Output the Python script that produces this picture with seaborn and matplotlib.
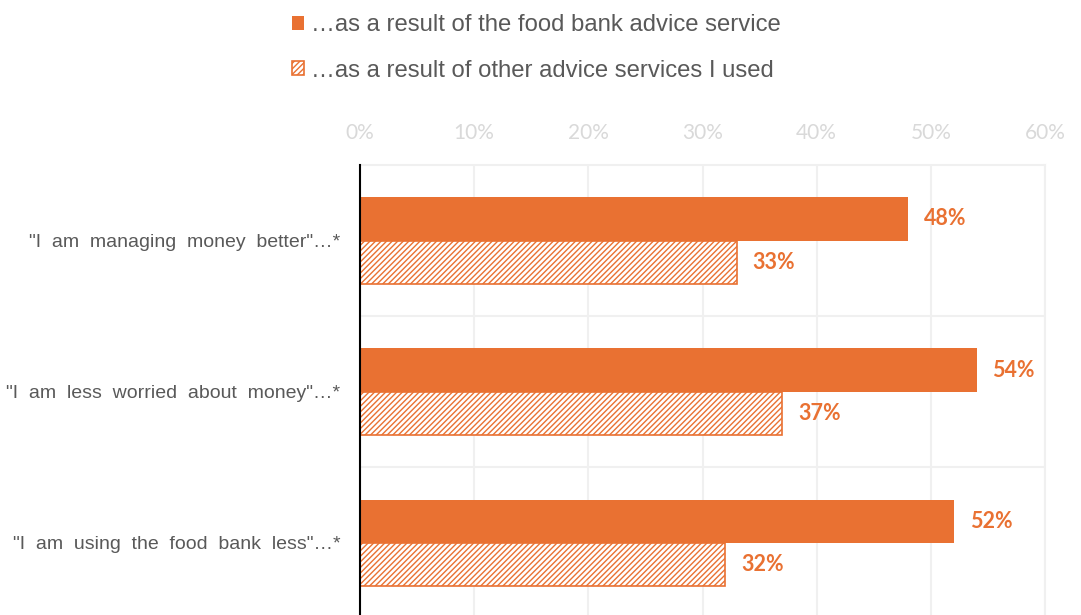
import matplotlib
matplotlib.use("Agg")
import matplotlib.pyplot as plt
import seaborn as sns
import pandas as pd
from matplotlib.patches import Patch
from matplotlib.ticker import FixedLocator, PercentFormatter

categories = ['"I  am  managing  money  better"…*',
              '"I  am  less  worried  about  money"…*',
              '"I  am  using  the  food  bank  less"…*']
series_names = ['…as a result of the food bank advice service',
                '…as a result of other advice services I used']
food_bank = [48, 54, 52]
other_services = [33, 37, 32]
x_ticks = [0, 10, 20, 30, 40, 50, 60]

ORANGE = '#E97132'

sns.set_theme(style='white')
plt.rcParams['font.family'] = ['Liberation Sans', 'DejaVu Sans']
plt.rcParams['hatch.linewidth'] = 1.0

df = pd.DataFrame({
    'category': categories * 2,
    'value': food_bank + other_services,
    'series': [series_names[0]] * 3 + [series_names[1]] * 3,
})

fig = plt.figure(figsize=(10.81, 6.15), dpi=100)
ax = fig.add_axes([360 / 1081, -0.005, (1045 - 360) / 1081, 0.7317 + 0.005])

sns.barplot(data=df, y='category', x='value', hue='series', orient='h',
            palette=[ORANGE, ORANGE], width=0.57, gap=0, ax=ax, legend=False,
            saturation=1)

# style the second series as hatched
for i, cont in enumerate(ax.containers):
    for p in cont:
        if i == 1:
            p.set_facecolor('white')
            p.set_edgecolor(ORANGE)
            p.set_hatch('//////')
            p.set_linewidth(1.2)
        else:
            p.set_edgecolor(ORANGE)
            p.set_linewidth(0)
    ax.bar_label(cont, labels=[f'{v:.0f}%' for v in cont.datavalues],
                 padding=11.5, color=ORANGE, fontsize=15.5, fontweight='bold',
                 family=['Lato', 'DejaVu Sans'])

ax.set_xlim(0, 60)
ax.set_ylim(2.5, -0.5)
ax.xaxis.set_major_locator(FixedLocator(x_ticks))
ax.xaxis.set_major_formatter(PercentFormatter(decimals=0))
ax.xaxis.tick_top()
ax.tick_params(axis='x', length=0, pad=16, labelsize=15, labelcolor='#d9d9d9')
for lab in ax.get_xticklabels():
    lab.set_family(['Lato', 'DejaVu Sans'])
ax.tick_params(axis='y', length=0, pad=14, labelsize=14, labelcolor='#595959')
ax.set_xlabel('')
ax.set_ylabel('')

# gridlines
ax.grid(axis='x', color='#f0f0f0', linewidth=1.5)
ax.set_yticks([0.5, 1.5], minor=True)
ax.grid(axis='y', which='minor', color='#f0f0f0', linewidth=1.5)
ax.tick_params(axis='y', which='minor', length=0)
ax.set_axisbelow(True)

for s in ['top', 'right', 'bottom']:
    ax.spines[s].set_color('#f0f0f0')
    ax.spines[s].set_linewidth(1.5)
ax.spines['left'].set_color('black')
ax.spines['left'].set_linewidth(1.5)
ax.spines['left'].set_zorder(5)

handles = [Patch(facecolor=ORANGE, edgecolor=ORANGE, linewidth=0),
           Patch(facecolor='white', edgecolor=ORANGE, hatch='//////', linewidth=1.2)]
fig.legend(handles, series_names, loc='upper left',
           bbox_to_anchor=(278 / 1081, 1.0), frameon=False,
           fontsize=17.2, labelcolor='#595959', handlelength=0.5,
           handleheight=0.5, handletextpad=0.3, labelspacing=0.98,
           borderaxespad=0.2)

fig.savefig('out.png', dpi=100)
